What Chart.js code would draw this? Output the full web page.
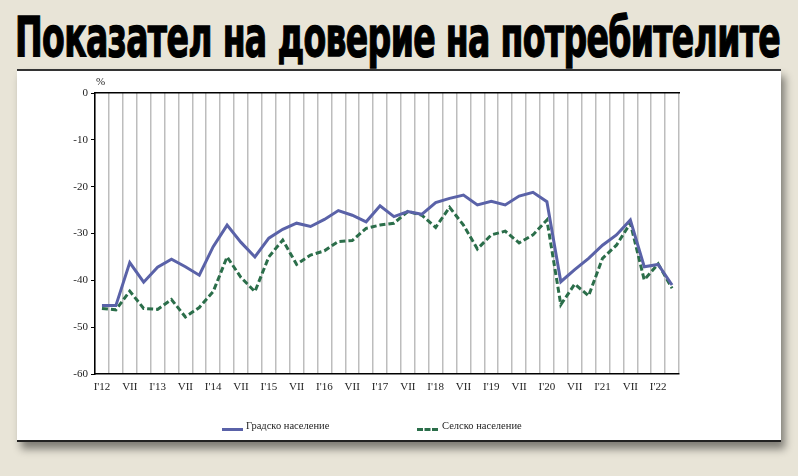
<!DOCTYPE html>
<html lang="bg">
  <head>
    <meta charset="UTF-8" />
    <title>Показател на доверие на потребителите</title>
    <script src="https://cdn.jsdelivr.net/npm/chart.js"></script>
    <style>
      body {
        margin: 0;
        width: 798px;
        height: 476px;
        background: #e8e4d7;
        position: relative;
        overflow: hidden;
      }
      #title {
        position: absolute;
        left: 0;
        top: 4px;
        white-space: nowrap;
        font-family: "Liberation Sans Narrow", "DejaVu Sans Condensed", sans-serif;
        font-weight: bold;
        font-size: 56px;
        color: #000;
        -webkit-text-stroke: 1.3px #000;
        transform-origin: 0 0;
        letter-spacing: -1px;
      }
      #panel {
        position: absolute;
        left: 17px;
        top: 69px;
        width: 764px;
        height: 369px;
        background: #fff;
        border-top: 2px solid #333;
        border-bottom: 2px solid #222;
        box-shadow: 4px 7px 8px rgba(0, 0, 0, 0.45);
      }
      #chart {
        position: absolute;
        left: 0;
        top: 0;
      }
      .txt {
        position: absolute;
        font-family: "Liberation Serif", serif;
        font-size: 11px;
        color: #222;
        white-space: nowrap;
      }
      .swatch {
        position: absolute;
        height: 0;
        width: 21px;
      }
    </style>
  </head>
  <body>
    <div id="title">Показател на доверие на потребителите</div>
    <div id="panel"></div>
    <canvas id="chart" width="798" height="476"></canvas>
    <div class="txt" style="left: 96px; top: 75px">%</div>
    <div class="swatch" style="left: 222px; top: 428px; border-top: 3px solid #5a62a8"></div>
    <div class="txt" style="left: 246px; top: 420px; font-size: 10.5px">Градско население</div>
    <div class="swatch" style="left: 417px; top: 428px; border-top: 3px dashed #2b6e4a"></div>
    <div class="txt" style="left: 442px; top: 420px; font-size: 10.5px">Селско население</div>

    <script>
      // quarters I'12 .. IV'22, labels shown on January and July
      const quarterLabels = [
        "I'12", "", "VII", "", "I'13", "", "VII", "", "I'14", "", "VII", "",
        "I'15", "", "VII", "", "I'16", "", "VII", "", "I'17", "", "VII", "",
        "I'18", "", "VII", "", "I'19", "", "VII", "", "I'20", "", "VII", "",
        "I'21", "", "VII", "", "I'22", ""
      ];

      const urbanValues = [
        -45.4, -45.4, -36.2, -40.4, -37.2, -35.5, -37.1, -38.9, -32.8, -28.2,
        -31.9, -35.0, -31.0, -29.1, -27.8, -28.5, -27.0, -25.1, -26.1, -27.5,
        -24.1, -26.4, -25.3, -25.9, -23.4, -22.5, -21.8, -23.9, -23.1, -23.9,
        -22.0, -21.2, -23.2, -40.3, -37.7, -35.3, -32.5, -30.3, -27.1, -37.1,
        -36.6, -41.0
      ];

      const ruralValues = [
        -46.0, -46.3, -42.3, -46.0, -46.2, -44.1, -47.8, -45.8, -42.4, -35.0,
        -39.4, -42.4, -35.0, -31.4, -36.6, -34.6, -33.7, -31.7, -31.5, -28.9,
        -28.2, -27.8, -25.3, -26.1, -28.7, -24.4, -28.2, -33.3, -30.3, -29.5,
        -32.0, -30.3, -27.1, -45.2, -40.8, -43.3, -35.3, -32.5, -27.8, -39.9,
        -36.5, -41.7
      ];

      const yTicks = [0, -10, -20, -30, -40, -50, -60];

      // stretch the title to the panel width
      const title = document.getElementById("title");
      const w = title.getBoundingClientRect().width;
      title.style.transform = `translateX(15px) scaleX(${765 / w})`;

      const labelFont = { family: "Liberation Serif", size: 11 };

      new Chart(document.getElementById("chart"), {
        type: "line",
        data: {
          labels: quarterLabels,
          datasets: [
            {
              label: "Градско население",
              data: urbanValues,
              borderColor: "#5a62a8",
              borderWidth: 3,
              pointRadius: 0,
              tension: 0,
              fill: false,
            },
            {
              label: "Селско население",
              data: ruralValues,
              borderColor: "#2b6e4a",
              borderWidth: 3,
              borderDash: [6, 3],
              pointRadius: 0,
              tension: 0,
              fill: false,
            },
          ],
        },
        options: {
          responsive: false,
          devicePixelRatio: 1,
          animation: false,
          layout: { padding: { left: 65, right: 119, top: 90, bottom: 80 } },
          plugins: { legend: { display: false }, tooltip: { enabled: false } },
          scales: {
            x: {
              offset: true,
              grid: { offset: true, color: "#bdbdbd", lineWidth: 1.5, drawTicks: false },
              border: { color: "#000", width: 1.5 },
              ticks: {
                autoSkip: false,
                maxRotation: 0,
                padding: 7,
                color: "#222",
                font: labelFont,
              },
              afterFit(s) {
                s.height = 22;
              },
            },
            xTop: {
              type: "category",
              position: "top",
              offset: true,
              grid: { display: false },
              border: { color: "#000", width: 1.5 },
              ticks: { display: false },
              afterFit(s) {
                s.height = 3;
              },
            },
            y: {
              min: -60,
              max: 0,
              afterBuildTicks(s) {
                s.ticks = yTicks.map((v) => ({ value: v }));
              },
              grid: { drawOnChartArea: false, tickLength: 4, color: "#000" },
              border: { color: "#000", width: 1.5 },
              ticks: { padding: 3, color: "#222", font: labelFont },
              afterFit(s) {
                s.width = 30;
              },
            },
          },
        },
      });
    </script>
  </body>
</html>
